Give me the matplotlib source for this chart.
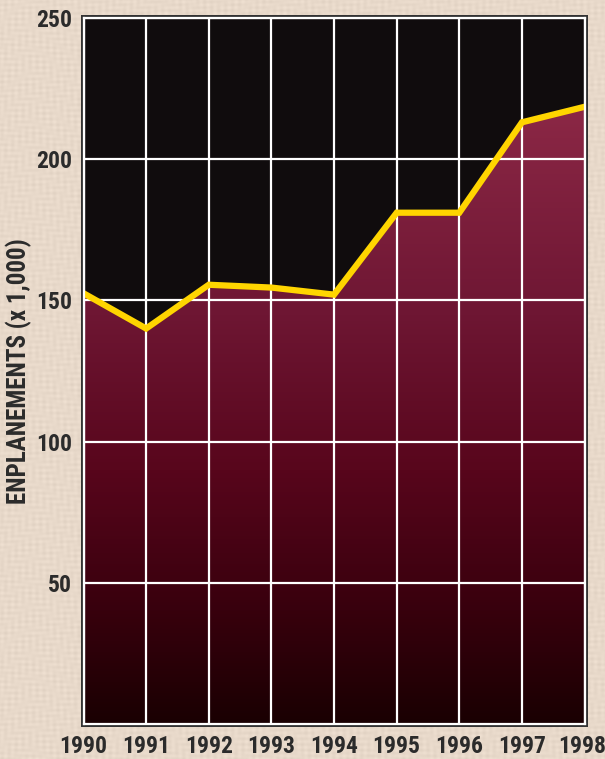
import numpy as np
import matplotlib
matplotlib.use("Agg")
import matplotlib.pyplot as plt
from matplotlib.colors import LinearSegmentedColormap, to_rgb
from matplotlib.patches import Rectangle
from matplotlib.transforms import ScaledTranslation

years = [1990, 1991, 1992, 1993, 1994, 1995, 1996, 1997, 1998]
enplanements = [152.5, 140.0, 155.5, 154.5, 152.0, 181.0, 181.0, 213.0, 218.5]
yticks = [50, 100, 150, 200, 250]

# gradient stops for the filled area (value, colour)
grad_stops = [(0, "#1a0002"), (40, "#38000d"), (90, "#58061c"),
              (145, "#6e1633"), (220, "#8c2846"), (250, "#922b4a")]

plt.rcParams['font.family'] = ['Roboto Condensed', 'Archivo Narrow',
                               'PT Sans Narrow', 'DejaVu Sans']
txt_col = "#2b2b2b"

W, H = 605, 759
fig = plt.figure(figsize=(W / 100, H / 100), dpi=100)
fig.patch.set_facecolor("#e8d9ca")

# linen-like paper texture behind everything
bg = fig.add_axes([0, 0, 1, 1], zorder=-5)
yy, xx = np.mgrid[0:H, 0:W]
weave = (0.5 * np.sin(xx * 0.9) * np.sin(yy * 0.13 + np.sin(xx * 0.05) * 3)
         + 0.5 * np.sin(yy * 1.1) * np.sin(xx * 0.11 + np.sin(yy * 0.07) * 3))
base = np.array(to_rgb("#e8d9ca"))
tex = base[None, None, :] + 0.03 * weave[..., None]
bg.imshow(np.clip(tex, 0, 1), aspect="auto", interpolation="nearest")
bg.axis("off")

x0, x1 = 83.5, 584.6
ytop, ybot = 17.8, 724.0
ax = fig.add_axes([x0 / W, 1 - ybot / H, (x1 - x0) / W, (ybot - ytop) / H])
ax.set_zorder(2)

# dark outer frame around the plot
pad = 3
fig.patches.append(Rectangle(((x0 - pad) / W, 1 - (ybot + pad) / H),
                             (x1 - x0 + 2 * pad) / W, (ybot - ytop + 2 * pad) / H,
                             transform=fig.transFigure, facecolor="#333333",
                             edgecolor="none", zorder=0))

ax.set_facecolor("#100c0d")
ax.set_xlim(1990, 1998)
ax.set_ylim(0, 250)

cmap = LinearSegmentedColormap.from_list(
    "enp", [(v / 250, c) for v, c in grad_stops])
grad = np.linspace(0, 1, 512).reshape(-1, 1)
im = ax.imshow(grad, extent=[1990, 1998, 0, 250], origin="lower",
               aspect="auto", cmap=cmap, zorder=1)
poly = ax.fill_between(years, enplanements, 0, facecolor="none",
                       edgecolor="none")
im.set_clip_path(poly.get_paths()[0], transform=ax.transData)

ax.set_xticks(years)
ax.set_yticks(yticks)
ax.grid(True, color="white", linewidth=1.6)
for gl in ax.get_xgridlines() + ax.get_ygridlines():
    gl.set_zorder(2)

ax.plot(years, enplanements, color="#ffd500", linewidth=4.5,
        solid_joinstyle="miter", zorder=3)

for s in ax.spines.values():
    s.set_color("white")
    s.set_linewidth(1.6)
    s.set_zorder(4)

ax.tick_params(length=0, pad=8, labelsize=17, labelcolor=txt_col)
for lab in ax.get_xticklabels() + ax.get_yticklabels():
    lab.set_fontweight("bold")
# keep the last year label inside the picture
last = ax.get_xticklabels()[-1]
last.set_transform(last.get_transform()
                   + ScaledTranslation(-2 / 72, 0, fig.dpi_scale_trans))

ylab = ax.set_ylabel("ENPLANEMENTS (x 1,000)", fontsize=18, fontweight="bold",
                     color=txt_col, va="center")
ax.yaxis.set_label_coords((19 - x0) / (x1 - x0), 0.5)

fig.savefig("out.png", dpi=100, facecolor=fig.get_facecolor())
